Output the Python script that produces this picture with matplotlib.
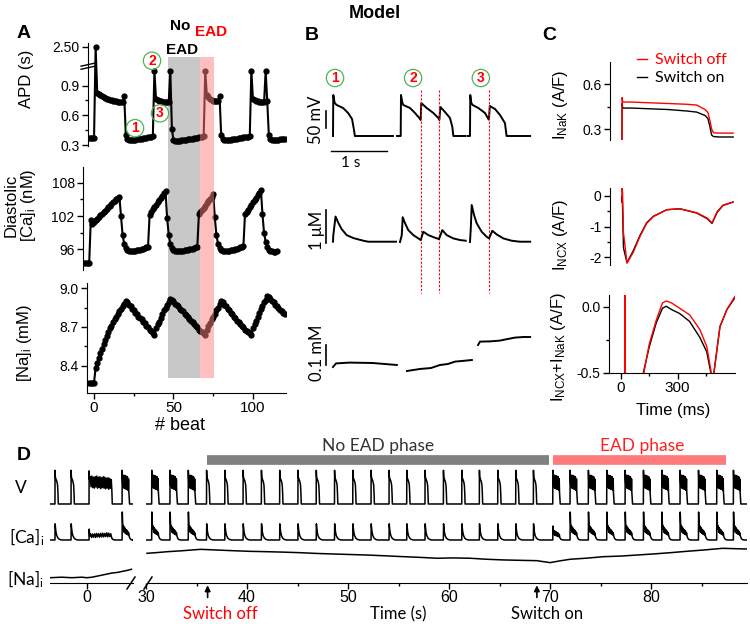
import numpy as np
import matplotlib.pyplot as plt
from matplotlib import transforms

plt.rcParams['font.family'] = ['Liberation Sans', 'DejaVu Sans']
plt.rcParams['axes.unicode_minus'] = False
plt.rcParams['mathtext.default'] = 'regular'

############################### data ###############################

# panel A : one value per beat
apd_beats = list(range(-3, 121))
apd_s = ([0.37, 0.37, 0.37, 0.37, 2.50]
         + [0.83, 0.81, 0.80, 0.79, 0.78, 0.77, 0.765, 0.76, 0.755, 0.75, 0.745, 0.74, 0.74, 0.735, 0.735, 0.73, 0.73]
         + [0.79, 0.40]
         + [0.36, 0.35, 0.35, 0.35, 0.355, 0.355, 0.36, 0.36, 0.365, 0.365, 0.37, 0.37, 0.375, 0.38, 0.38, 0.385, 0.39]
         + [1.05, 0.76, 0.75, 0.74, 0.74, 0.735, 0.73, 0.73, 0.73, 0.73, 1.05, 0.46]
         + [0.35, 0.34, 0.34, 0.345, 0.345, 0.35, 0.35, 0.355, 0.355, 0.36, 0.36, 0.365, 0.365, 0.37, 0.37, 0.375, 0.38, 0.38, 0.385, 0.39]
         + [1.05, 0.80, 0.78, 0.76, 0.75, 0.745, 0.74, 0.74, 0.74, 0.79, 0.40]
         + [0.36, 0.35, 0.35, 0.35, 0.355, 0.355, 0.36, 0.36, 0.365, 0.365, 0.37, 0.37, 0.375, 0.38, 0.38, 0.385, 0.385, 0.39]
         + [1.05, 0.76, 0.75, 0.74, 0.74, 0.735, 0.73, 0.73, 0.73, 1.05, 0.74, 0.40]
         + [0.36, 0.35, 0.35, 0.35, 0.355, 0.355, 0.36, 0.36, 0.36, 0.365])

ca_beats = list(range(-6, 116))
ca_nM = ([93.5, 93.5, 93.5, 93.5, 101.3, 100.6]
         + [100.9, 101.2, 101.5, 101.8, 102.1, 102.4, 102.7, 103.0, 103.3, 103.6, 103.9, 104.2, 104.5, 104.8, 105.1, 105.3, 105.5]
         + [102.0, 98.6, 97.0, 96.2]
         + [95.8, 95.6, 95.6, 95.6, 95.7, 95.7, 95.8, 95.8, 95.9, 96.0, 96.1, 96.2, 96.3, 96.4]
         + [102.2, 102.7, 103.2, 103.6, 104.0, 104.5, 104.9, 105.3, 105.7, 106.1, 106.6]
         + [101.7, 98.6, 97.0, 96.2]
         + [95.8, 95.6, 95.6, 95.6, 95.6, 95.7, 95.7, 95.8, 95.8, 95.9, 96.0, 96.0, 96.1, 96.2, 96.3, 96.4]
         + [102.3, 102.7, 103.1, 103.5, 103.9, 104.3, 104.7, 105.1, 105.5, 106.0]
         + [101.8, 98.6, 97.0, 96.2]
         + [95.8, 95.6, 95.6, 95.6, 95.7, 95.7, 95.8, 95.8, 95.9, 96.0, 96.1, 96.2, 96.3, 96.4, 96.5]
         + [102.3, 102.7, 103.1, 103.6, 104.0, 104.5, 104.9, 105.3, 105.8, 106.2, 106.8]
         + [102.3, 98.9, 97.3, 96.4, 95.9, 95.7, 95.6, 95.5, 95.5, 95.6])

na_beats = list(range(-3, 121))
na_mM = ([8.27, 8.27, 8.27, 8.27]
         + [8.38, 8.42, 8.46, 8.50, 8.53, 8.57, 8.60, 8.63, 8.66, 8.69, 8.71, 8.74, 8.76, 8.78, 8.80, 8.82, 8.84, 8.86, 8.88, 8.90]
         + [8.89, 8.87, 8.86, 8.84, 8.83, 8.81, 8.80, 8.78, 8.77, 8.76, 8.74, 8.73, 8.71, 8.70, 8.68, 8.67, 8.65, 8.64]
         + [8.69, 8.72, 8.74, 8.77, 8.80, 8.83, 8.85, 8.87, 8.89, 8.92]
         + [8.91, 8.90, 8.88, 8.87, 8.86, 8.84, 8.83, 8.82, 8.80, 8.79, 8.78, 8.76, 8.75, 8.74, 8.72, 8.71, 8.70, 8.68, 8.67, 8.66, 8.65, 8.64]
         + [8.68, 8.71, 8.73, 8.76, 8.78, 8.80, 8.83, 8.85, 8.88, 8.90]
         + [8.89, 8.87, 8.86, 8.84, 8.83, 8.81, 8.80, 8.78, 8.77, 8.75, 8.74, 8.72, 8.71, 8.70, 8.68, 8.67, 8.66, 8.65, 8.64]
         + [8.69, 8.72, 8.75, 8.78, 8.81, 8.84, 8.86, 8.89, 8.91, 8.94]
         + [8.93, 8.92, 8.90, 8.89, 8.87, 8.86, 8.85, 8.83, 8.82, 8.81, 8.80])

no_ead_beats = (46.5, 66.7)
ead_beats = (66.7, 75.5)

# panel B : three recorded beats (time in s)
bv_t = [[0, 0.005, 0.03, 0.066, 0.18, 0.27, 0.34, 0.375, 0.39, 1.07],
        [1.143, 1.209, 1.214, 1.24, 1.256, 1.375, 1.464, 1.541, 1.566, 1.576, 1.673, 1.792, 1.881, 1.899, 1.917, 2.0, 2.089, 2.131, 2.149, 2.357],
        [2.40, 2.446, 2.451, 2.47, 2.494, 2.595, 2.714, 2.774, 2.784, 2.80, 2.893, 2.982, 3.07, 3.10, 3.52]]
bv_mV = [[-85, 38, 14, 8, -1, -16, -34, -67, -85, -85],
         [-85, -85, 38, 14, 8, -1, -16, -31, -37, 14, -1, -16, -31, -37, 2, -13, -31, -58, -85, -85],
         [-85, -85, 38, 14, 8, -1, -16, -34, -36, 5, -4, -22, -46, -85, -85]]
bc_t = [[0, 0.005, 0.045, 0.095, 0.155, 0.244, 0.363, 0.542, 0.63, 1.125],
        [1.196, 1.227, 1.245, 1.286, 1.345, 1.434, 1.523, 1.566, 1.613, 1.702, 1.821, 1.893, 1.952, 2.03, 2.148, 2.268, 2.37],
        [2.446, 2.46, 2.477, 2.518, 2.565, 2.655, 2.744, 2.786, 2.845, 2.923, 3.041, 3.19, 3.34, 3.52]]
bc_uM = [[0.11, 0.3, 0.87, 0.68, 0.49, 0.31, 0.22, 0.14, 0.11, 0.11],
         [0.1, 0.3, 0.85, 0.67, 0.46, 0.31, 0.21, 0.16, 0.41, 0.31, 0.23, 0.19, 0.46, 0.31, 0.21, 0.16, 0.14],
         [0.1, 0.5, 1.22, 0.92, 0.67, 0.41, 0.26, 0.21, 0.44, 0.33, 0.21, 0.14, 0.11, 0.11]]
bn_t = [[0, 0.054, 0.30, 0.71, 1.14],
        [1.32, 1.55, 1.75, 1.91, 2.05, 2.18, 2.30, 2.48],
        [2.59, 2.625, 2.80, 2.98, 3.12, 3.25, 3.40, 3.52]]
bn_mM = [[8.63, 8.648, 8.652, 8.65, 8.64],
         [8.61, 8.62, 8.625, 8.64, 8.645, 8.657, 8.66, 8.665],
         [8.74, 8.757, 8.758, 8.762, 8.77, 8.777, 8.78, 8.78]]
ead_onsets = [1.571, 1.897, 2.788]
beat_marks = [0.036, 1.43, 2.64]

# panel C (time in ms)
nak_t = [0, 1, 4, 50, 150, 250, 350, 400, 445, 460, 470, 480, 490, 520, 595]
nak_off = [0.23, 0.51, 0.48, 0.48, 0.475, 0.47, 0.465, 0.46, 0.43, 0.41, 0.36, 0.30, 0.275, 0.273, 0.273]
nak_on = [0.23, 0.47, 0.44, 0.44, 0.435, 0.43, 0.42, 0.413, 0.39, 0.37, 0.32, 0.26, 0.25, 0.247, 0.247]
ncx_t = [0, 1, 3, 8, 27, 60, 96, 132, 167, 240, 310, 400, 455, 482, 509, 541, 595]
ncx_off = [-0.2, 0.25, 0.1, -1.2, -2.2, -1.85, -1.33, -0.9, -0.68, -0.45, -0.42, -0.55, -0.72, -0.88, -0.52, -0.3, -0.2]
ncx_on = [-0.2, 0.0, -0.3, -1.7, -2.18, -1.8, -1.3, -0.88, -0.67, -0.45, -0.42, -0.56, -0.74, -0.9, -0.54, -0.31, -0.2]
sum_t = [0, 18, 20, 22, 60, 118, 150, 187, 220, 240, 268, 311, 364, 418, 455, 477, 485, 493, 525, 562, 605]
sum_off = [-1.8, -1.8, 0.5, -1.7, -1.2, -0.52, -0.28, -0.1, 0.03, 0.045, 0.03, -0.01, -0.06, -0.17, -0.30, -0.48, -0.6, -0.5, -0.15, -0.02, 0.08]
sum_on = [-1.8, -1.8, -1.8, -1.8, -1.25, -0.5, -0.30, -0.12, -0.01, 0.005, -0.02, -0.05, -0.11, -0.23, -0.34, -0.5, -0.6, -0.5, -0.15, -0.02, 0.07]

# panel D : beat shapes (time from onset, s) and beat onsets
ap_t = [0, 0.01, 0.03, 0.06, 0.12, 0.2, 0.26, 0.3, 0.33]
ap_mV = [-85, 32, 12, 5, 0, -8, -20, -50, -85]
eadap_t = [0, 0.01, 0.03, 0.07, 0.1, 0.13, 0.16, 0.19, 0.22, 0.25, 0.28, 0.31, 0.34, 0.37, 0.40, 0.43, 0.46, 0.49, 0.52, 0.55, 0.58, 0.61, 0.64, 0.67, 0.7, 0.74]
eadap_mV = [-85, 32, 5, -20, 12, -25, 15, -30, 10, -28, 14, -32, 8, -30, 12, -34, 6, -30, 10, -35, 4, -38, 2, -45, -60, -85]
longap_t = [0, 0.01, 0.05, 0.12, 0.2, 0.28, 0.36, 0.44, 0.52, 0.6, 0.68, 0.76, 0.84, 0.92, 1.0, 1.08, 1.16, 1.24, 1.32, 1.4, 1.48, 1.56, 1.64, 1.72, 1.8, 1.88, 1.96, 2.04, 2.12, 2.2, 2.26, 2.3]
longap_mV = [-85, 30, 0, 10, -25, 12, -28, 8, -30, 10, -26, 12, -30, 8, -28, 10, -32, 6, -28, 10, -30, 8, -32, 5, -30, 6, -34, 4, -30, 0, -40, -85]
cat_t = [0, 0.02, 0.05, 0.1, 0.18, 0.3, 0.45, 0.65, 0.9]
cat_uM = [0.1, 0.62, 0.5, 0.36, 0.24, 0.16, 0.12, 0.1, 0.1]
caead_t = [0, 0.02, 0.05, 0.1, 0.15, 0.2, 0.25, 0.3, 0.35, 0.4, 0.45, 0.5, 0.55, 0.6, 0.65, 0.7, 0.78, 0.9, 1.1]
caead_uM = [0.1, 1.0, 0.7, 0.45, 0.55, 0.35, 0.5, 0.32, 0.45, 0.3, 0.42, 0.28, 0.38, 0.26, 0.33, 0.22, 0.15, 0.11, 0.1]
calow_uM = [0.1, 0.55, 0.35, 0.28, 0.4, 0.25, 0.38, 0.24, 0.36, 0.23, 0.34, 0.22, 0.32, 0.2, 0.28, 0.18, 0.13, 0.11, 0.1]
calong_t = [0, 0.02, 0.06, 0.15, 0.25, 0.35, 0.45, 0.55, 0.65, 0.75, 0.85, 0.95, 1.05, 1.15, 1.25, 1.35, 1.45, 1.55, 1.65, 1.75, 1.85, 1.95, 2.05, 2.15, 2.25, 2.35, 2.5]
calong_uM = [0.1, 0.45, 0.22, 0.3, 0.18, 0.29, 0.19, 0.3, 0.18, 0.31, 0.2, 0.3, 0.19, 0.31, 0.2, 0.32, 0.2, 0.31, 0.21, 0.33, 0.2, 0.32, 0.21, 0.3, 0.16, 0.12, 0.1]

d1_onsets = [-3.17, -1.58, 0.2, 3.47]
d1_v_kind = ['N', 'N', 'X', 'E']
d1_ca_kind = ['N', 'N', 'X', 'E']
d2_onsets = [30.56, 32.37, 34.18, 35.99, 37.80, 39.61, 41.42, 43.23, 45.04, 46.85, 48.66, 50.47,
             52.28, 54.06, 55.81, 57.62, 59.44, 61.26, 63.00, 64.82, 66.60, 68.35, 70.27, 71.98,
             73.79, 75.61, 77.43, 79.24, 81.06, 82.87, 84.69, 86.50, 88.15]
d2_v_kind = ['E'] * 3 + ['N'] * 19 + ['E'] * 11
d2_ca_kind = ['E'] * 3 + ['N'] * 19 + ['L'] + ['E'] * 10
d1_na_t = [-3.66, -2.5, -1.5, -0.5, 0, 0.5, 1.0, 1.5, 2.0, 2.5, 3.0, 3.5, 4.0, 4.4]
d1_na_mM = [8.36, 8.37, 8.36, 8.37, 8.36, 8.37, 8.39, 8.41, 8.43, 8.45, 8.46, 8.48, 8.50, 8.52]
d2_na_t = [30.1, 31.0, 32.1, 33.5, 35.4, 37.0, 38.6, 40.3, 42.0, 43.6, 45.3, 46.9, 48.5, 50.2, 51.9,
           53.7, 55.5, 57.2, 58.8, 60.4, 62.1, 63.7, 65.4, 67.0, 68.7, 70.0, 71.0, 72.0, 73.6,
           75.3, 77.0, 78.6, 80.2, 81.9, 83.5, 85.2, 87.1, 89.5]
d2_na_mM = [8.823, 8.835, 8.853, 8.87, 8.898, 8.885, 8.872, 8.86, 8.853, 8.845, 8.834, 8.82, 8.81, 8.80, 8.79,
            8.775, 8.759, 8.745, 8.729, 8.735, 8.729, 8.71, 8.697, 8.69, 8.683, 8.646, 8.68, 8.71, 8.73,
            8.759, 8.77, 8.79, 8.81, 8.834, 8.86, 8.885, 8.917, 8.904]
switch_off_t = 36.1
switch_on_t = 68.7
no_ead_phase = (36.05, 69.9)
ead_phase = (70.3, 87.4)

############################### figure ###############################

W, H = 750, 624
fig = plt.figure(figsize=(W / 100, H / 100), dpi=100)


def box(l, t, r, b):
    return fig.add_axes([l / W, 1 - b / H, (r - l) / W, (b - t) / H])


def ftext(x, y, s, **kw):
    return fig.text(x / W, 1 - y / H, s, **kw)


def style(ax, left=True, bottom=False, size=10):
    for s in ['top', 'right']:
        ax.spines[s].set_visible(False)
    ax.spines['left'].set_visible(left)
    ax.spines['bottom'].set_visible(bottom)
    ax.patch.set_visible(False)
    ax.tick_params(which='both', direction='out', labelsize=size, width=1,
                   left=left, labelleft=left, bottom=bottom, labelbottom=bottom, pad=2)
    ax.tick_params(which='major', length=4)
    ax.tick_params(which='minor', length=2)


sans = 'Lato'
ftext(375, 14, 'Model', ha='center', va='center', fontsize=13, fontweight='bold')
for lab, x, y in [('A', 24, 34), ('B', 312, 36), ('C', 549, 36), ('D', 24, 456)]:
    ftext(x, y, lab, ha='center', va='center', fontsize=14, fontweight='bold')

# ---------- A ----------
bg = box(87, 57, 286, 378)
bg.set_zorder(-1)
bg.set_xlim(-4.4, 120.8)
bg.axis('off')
bg.axvspan(*no_ead_beats, color='#c8c8c8', lw=0)

fwd = lambda v: np.where(v <= 1.1, v, 1.1 + (v - 1.1) * 0.136)
inv = lambda u: np.where(u <= 1.1, u, 1.1 + (u - 1.1) / 0.136)
a1 = box(88, 43, 286, 146)
a1.set_yscale('function', functions=(fwd, inv))
a1.plot(apd_beats, apd_s, '-o', color='k', lw=1.5, ms=3.5)
a1.set_xlim(-3.8, 120.8)
a1.set_ylim(0.29, 2.79)
a1.set_yticks([0.3, 0.6, 0.9, 2.5], ['0.3', '0.6', '0.9', '2.50'])
a1.set_yticks([0.45, 0.75], minor=True)
style(a1)
for dy in (0.0, 0.03):
    a1.plot([-0.035, 0.035], [0.745 + dy, 0.775 + dy], transform=a1.transAxes,
            color='k', lw=1, clip_on=False)

a2 = box(83, 167, 286, 270)
a2.plot(ca_beats, ca_nM, '-o', color='k', lw=1.5, ms=3.5)
a2.set_xlim(-6.9, 120.8)
a2.set_ylim(92.2, 110.9)
a2.set_yticks([96, 102, 108])
a2.set_yticks([99, 105], minor=True)
style(a2)

a3 = box(87, 283, 286, 393)
a3.plot(na_beats, na_mM, '-o', color='k', lw=1.5, ms=3.5)
a3.set_xlim(-4.4, 120.8)
a3.set_ylim(8.19, 9.04)
a3.set_yticks([8.4, 8.7, 9.0], ['8.4', '8.7', '9.0'])
a3.set_yticks([8.55, 8.85], minor=True)
a3.set_xticks([0, 50, 100])
a3.set_xticks([25, 75], minor=True)
style(a3, bottom=True)
a3.tick_params(axis='x', labelsize=11)

fg = box(87, 57, 286, 378)
fg.set_xlim(-4.4, 120.8)
fg.axis('off')
fg.axvspan(*ead_beats, color='#ff8080', alpha=0.5, lw=0)

ftext(26, 79, 'APD (s)', rotation=90, ha='center', va='center', fontsize=12)
ftext(21, 205, 'Diastolic\n[Ca]$_i$ (nM)', rotation=90, ha='center', va='center',
      fontsize=12, linespacing=1.0)
ftext(24, 343, '[Na]$_i$ (mM)', rotation=90, ha='center', va='center', fontsize=12)
ftext(180, 426, '# beat', ha='center', va='center', fontsize=13)
ftext(180, 26, 'No', ha='center', va='center', fontsize=11, fontweight='bold')
ftext(182, 50, 'EAD', ha='center', va='center', fontsize=11, fontweight='bold')
ftext(211, 32, 'EAD', ha='center', va='center', fontsize=11, fontweight='bold', color='red')

circ = dict(boxstyle='circle,pad=0.12', fc='none', ec='#55b055', lw=0.9)
for s, bx, by in [('1', 25.8, 0.47), ('2', 36.5, 1.47), ('3', 41.5, 0.62)]:
    a1.text(bx, by, s, ha='center', va='center', fontsize=10, fontweight='bold',
            color='red', bbox=circ, clip_on=False)

# ---------- B ----------
bV = box(305, 85, 535, 140)
bC = box(305, 200, 535, 248)
bN = box(305, 320, 535, 380)
for ax, tt, yy, lim in [(bV, bv_t, bv_mV, (-97, 68)), (bC, bc_t, bc_uM, (-0.08, 1.37)),
                        (bN, bn_t, bn_mM, (8.565, 8.865))]:
    for t, y in zip(tt, yy):
        ax.plot(t, y, color='k', lw=1.4)
    ax.set_xlim(-0.5, 3.607)
    ax.set_ylim(*lim)
    ax.axis('off')

bV.plot([-0.125, -0.125], [-60, -10], color='k', lw=1.2)
bV.text(-0.31, -35, '50 mV', rotation=90, ha='center', va='center', fontsize=12, family=sans)
bV.plot([-0.036, 0.964], [-130, -130], color='k', lw=1, clip_on=False)
bV.text(0.32, -166, '1 s', ha='center', va='center', fontsize=11, family=sans)
bC.plot([-0.125, -0.125], [0.07, 1.07], color='k', lw=1.2)
bC.text(-0.29, 0.46, '1 μM', rotation=90, ha='center', va='center', fontsize=12, family=sans)
bN.plot([-0.125, -0.125], [8.64, 8.74], color='k', lw=1.2)
bN.text(-0.29, 8.70, '0.1 mM', rotation=90, ha='center', va='center', fontsize=12, family=sans)

tr = transforms.blended_transform_factory(bV.transData, fig.transFigure)
for t in ead_onsets:
    bV.plot([t, t], [1 - 90 / H, 1 - 293 / H], transform=tr, color='red', lw=0.8,
            ls=(0, (2, 1.5)), clip_on=False)
for i, t in enumerate(beat_marks):
    bV.text(t, 89, str(i + 1), ha='center', va='center', fontsize=10, fontweight='bold',
            color='red', bbox=circ, clip_on=False)

# ---------- C ----------
c1 = box(610, 62, 735, 140)
c1.plot(nak_t, nak_on, color='k', lw=1.0, label='Switch on')
c1.plot(nak_t, nak_off, color='red', lw=1.0, label='Switch off')
c1.set_ylim(0.227, 0.747)
c1.set_yticks([0.3, 0.6])
c1.set_yticks([0.45], minor=True)

c2 = box(610, 188, 735, 265)
c2.plot(ncx_t, ncx_on, color='k', lw=1.0)
c2.plot(ncx_t, ncx_off, color='red', lw=1.0)
c2.set_ylim(-2.26, 0.26)
c2.set_yticks([0, -1, -2])
c2.set_yticks([-0.5, -1.5], minor=True)

c3 = box(609, 295, 735, 373)
c3.plot(sum_t, sum_on, color='k', lw=1.0)
c3.plot(sum_t, sum_off, color='red', lw=1.0)
c3.set_ylim(-0.5, 0.09)
c3.set_yticks([0.0, -0.5], ['0.0', '-0.5'])
c3.set_yticks([-0.25], minor=True)
c3.set_xticks([0, 300])
c3.set_xticks([150, 450], minor=True)
for ax in (c1, c2, c3):
    ax.set_xlim(-64, 605)
    style(ax, bottom=(ax is c3))
c3.tick_params(axis='x', labelsize=11)

h = c1.get_legend_handles_labels()
fig.legend(h[0][::-1], h[1][::-1], loc='upper left', bbox_to_anchor=(637 / W, 1 - 53 / H),
           frameon=False, handlelength=0.6, handletextpad=0.5, labelspacing=0.25,
           borderpad=0, borderaxespad=0, labelcolor='linecolor',
           prop={'family': sans, 'size': 11.5})
ftext(560, 105, 'I$_{NaK}$ (A/F)', rotation=90, ha='center', va='center', fontsize=12)
ftext(560, 235, 'I$_{NCX}$ (A/F)', rotation=90, ha='center', va='center', fontsize=12)
ftext(558, 347, 'I$_{NCX}$+I$_{NaK}$ (A/F)', rotation=90, ha='center', va='center', fontsize=12)
ftext(673, 410, 'Time (ms)', ha='center', va='center', fontsize=12)

# ---------- D ----------
v_shapes = {'N': (ap_t, ap_mV), 'E': (eadap_t, eadap_mV), 'X': (longap_t, longap_mV)}
ca_shapes = {'N': (cat_t, cat_uM), 'E': (caead_t, caead_uM), 'L': (caead_t, calow_uM),
             'X': (calong_t, calong_uM)}


def build(onsets, kinds, shapes, t0, t1, rest):
    tt, yy = [t0], [rest]
    for on, k in zip(onsets, kinds):
        st, sy = shapes[k]
        tt += [on + s for s in st]
        yy += list(sy)
    tt.append(t1)
    yy.append(rest)
    return tt, yy


cols = [(50, 133, (-3.66, 4.55), d1_onsets, d1_v_kind, d1_ca_kind, d1_na_t, d1_na_mM),
        (146, 747, (30.0, 89.5), d2_onsets, d2_v_kind, d2_ca_kind, d2_na_t, d2_na_mM)]
d_axes = []
for l, r, xl, ons, vk, ck, nt, nv in cols:
    dv = box(l, 468, r, 506)
    dc = box(l, 508, r, 542)
    dn = box(l, 545, r, 583)
    t, y = build(ons, vk, v_shapes, xl[0], xl[1], -85)
    dv.plot(t, y, color='k', lw=1.1)
    t, y = build(ons, ck, ca_shapes, xl[0], xl[1], 0.1)
    dc.plot(t, y, color='k', lw=1.1)
    dn.plot(nt, nv, color='k', lw=1.1)
    dv.set_ylim(-92, 40)
    dc.set_ylim(0.035, 1.13)
    dn.set_ylim(8.26, 8.98)
    for ax in (dv, dc, dn):
        ax.set_xlim(*xl)
    dv.axis('off')
    dc.axis('off')
    style(dn, left=False, bottom=True, size=11.5)
    d_axes.append((dv, dc, dn))

d1n = d_axes[0][2]
d1n.set_xticks([0])
d2v, d2c, d2n = d_axes[1]
d2n.set_xticks([30, 40, 50, 60, 70, 80])
d2n.set_xticks([35, 45, 55, 65, 75, 85], minor=True)
d2n.spines['bottom'].set_bounds(30.05, 89.5)
for ax in (d1n, d2n):
    ax.tick_params(axis='x', which='major', length=4, pad=1)

# axis break
for x in (131, 148):
    fig.add_artist(plt.Line2D([(x - 4) / W, (x + 4) / W], [1 - 589 / H, 1 - 577 / H],
                              color='k', lw=1.1))

trd = transforms.blended_transform_factory(d2v.transData, d2v.transAxes)
d2v.plot(no_ead_phase, [1.2, 1.2], transform=trd, color='#808080', lw=7,
         solid_capstyle='butt', clip_on=False)
d2v.plot(ead_phase, [1.2, 1.2], transform=trd, color='#ff7b7b', lw=7,
         solid_capstyle='butt', clip_on=False)
ftext(378, 446, 'No EAD phase', ha='center', va='center', fontsize=12.5, color='#333333', family=sans)
ftext(642, 446, 'EAD phase', ha='center', va='center', fontsize=12.5, color='#ff2020', family=sans)

for t, lab, col, xt in [(switch_off_t, 'Switch off', 'red', 220), (switch_on_t, 'Switch on', 'k', 547)]:
    d2n.annotate('', xy=(t, -0.06), xytext=(t, -0.38), xycoords=('data', 'axes fraction'),
                 textcoords=('data', 'axes fraction'),
                 arrowprops=dict(arrowstyle='-|>', color='k', lw=1.2, mutation_scale=8,
                                 shrinkA=0, shrinkB=0))
    ftext(xt, 614, lab, ha='center', va='center', fontsize=12, color=col, family=sans)
ftext(398, 614, 'Time (s)', ha='center', va='center', fontsize=12, family=sans)

ftext(21, 488, 'V', ha='center', va='center', fontsize=12.5, family=sans)
ftext(27, 537, '[Ca]$_i$', ha='center', va='center', fontsize=12.5, family=sans)
ftext(25, 579, '[Na]$_i$', ha='center', va='center', fontsize=12.5, family=sans)

fig.savefig('out.png', dpi=100)
